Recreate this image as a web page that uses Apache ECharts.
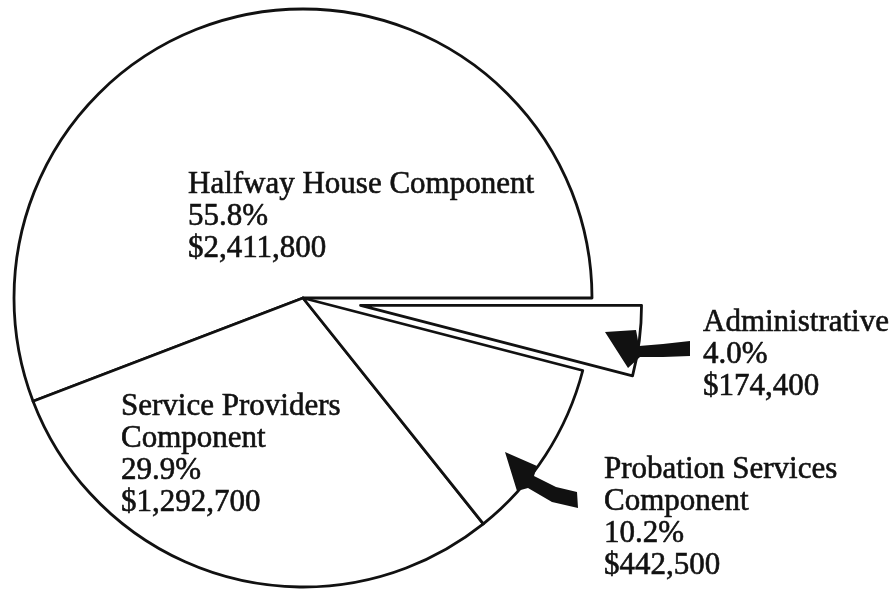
<!DOCTYPE html>
<html>
<head>
<meta charset="utf-8">
<script src="https://cdn.jsdelivr.net/npm/echarts@6/dist/echarts.min.js"></script>
<style>
  html, body { margin: 0; padding: 0; background: #fff; }
  #main { width: 896px; height: 590px; }
</style>
</head>
<body>
<div id="main"></div>
<script>
// budget components
const categories = ['Halfway House Component', 'Service Providers Component', 'Probation Services Component', 'Administrative'];
const labelNames = ['Halfway House Component', 'Service Providers\nComponent', 'Probation Services\nComponent', 'Administrative'];
const percents = [55.8, 29.9, 10.2, 4.0];
const amounts = [2411800, 1292700, 442500, 174400];

// where the text blocks sit (left, top)
const labelPos = [[188, 169], [121, 391], [604, 454], [703, 307]];

const FONT = '31px "Liberation Serif", "DejaVu Serif", serif';
const hidden = { color: 'rgba(0,0,0,0)', borderWidth: 0 };
const shown = { color: '#fff', borderColor: '#111', borderWidth: 2.8 };

let chart = echarts.init(document.getElementById('main'), null, { renderer: 'canvas' });

// main pie: everything except the pulled-out admin slice
let mainData = categories.map((name, i) => ({
  name,
  value: amounts[i],
  itemStyle: i === 3 ? hidden : shown
}));
// admin slice only, pulled out
let adminData = categories.map((name, i) => ({
  name,
  value: amounts[i],
  selected: i === 3,
  itemStyle: i === 3 ? shown : hidden
}));

let texts = categories.map((name, i) => ({
  type: 'text',
  z: 100,
  x: labelPos[i][0],
  y: labelPos[i][1],
  style: {
    text: labelNames[i] + '\n' + percents[i].toFixed(1) + '%\n$' + amounts[i].toLocaleString('en-US'),
    font: FONT,
    fill: '#111',
    stroke: '#111',
    lineWidth: 0.6,
    lineHeight: 32,
    align: 'left',
    verticalAlign: 'top'
  }
}));

// the two black arrows
let arrows = [
  { type: 'polygon', z: 100, shape: { points: [[605, 332], [636, 330], [639, 346], [663, 344], [690, 341], [690, 356], [663, 357], [640, 357], [628, 368]] }, style: { fill: '#111' } },
  { type: 'polygon', z: 100, shape: { points: [[505, 452], [537, 466], [534, 476], [556, 487], [577, 492], [578, 508], [552, 502], [528, 488], [517, 491]] }, style: { fill: '#111' } }
];

let option = {
  backgroundColor: '#fff',
  animation: false,
  series: [
    {
      type: 'pie',
      center: [303, 298],
      radius: 289,
      startAngle: 0,
      clockwise: false,
      label: { show: false },
      labelLine: { show: false },
      emphasis: { disabled: true },
      data: mainData
    },
    {
      type: 'pie',
      center: [303, 298],
      radius: 281,
      startAngle: 0,
      clockwise: false,
      selectedMode: 'single',
      selectedOffset: 58,
      label: { show: false },
      labelLine: { show: false },
      emphasis: { disabled: true },
      data: adminData
    }
  ],
  graphic: texts.concat(arrows)
};

chart.setOption(option);
</script>
</body>
</html>
